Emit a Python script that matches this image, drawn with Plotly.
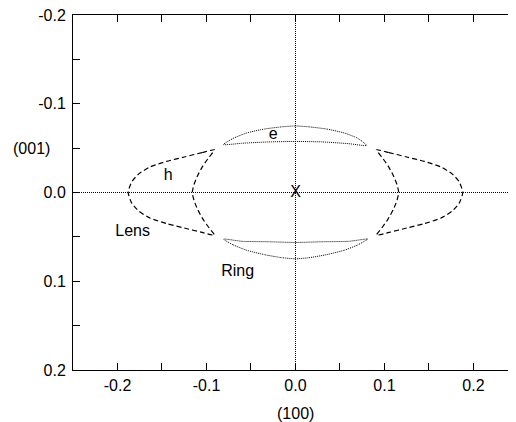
import plotly.graph_objects as go

# Lens (dashed) — left crescent: outer arc top->bottom, then inner arc bottom->top
lens_left_x = [-0.091, -0.105, -0.125, -0.145, -0.163, -0.176, -0.184, -0.188,
               -0.184, -0.176, -0.163, -0.145, -0.125, -0.105, -0.091,
               -0.097, -0.104, -0.110, -0.114, -0.116, -0.114, -0.110, -0.104, -0.097, -0.091]
lens_left_y = [-0.048, -0.045, -0.040, -0.035, -0.029, -0.021, -0.012, 0.000,
               0.012, 0.021, 0.029, 0.035, 0.040, 0.045, 0.048,
               0.040, 0.030, 0.019, 0.009, 0.000, -0.009, -0.019, -0.030, -0.040, -0.048]
lens_right_x = [0.091, 0.105, 0.125, 0.145, 0.163, 0.176, 0.184, 0.188,
                0.184, 0.176, 0.163, 0.145, 0.125, 0.105, 0.091,
                0.097, 0.104, 0.110, 0.114, 0.116, 0.114, 0.110, 0.104, 0.097, 0.091]
lens_right_y = lens_left_y

# Ring (dotted) — top ring: outer arc left->right, inner arc right->left
ring_top_x = [-0.081, -0.070, -0.055, -0.035, -0.015, 0.000, 0.015, 0.035, 0.055, 0.070, 0.080,
              0.060, 0.030, 0.000, -0.030, -0.060, -0.081]
ring_top_y = [-0.054, -0.061, -0.067, -0.0715, -0.074, -0.075, -0.074, -0.0715, -0.067, -0.061, -0.053,
              -0.055, -0.057, -0.0575, -0.057, -0.0555, -0.054]
ring_bot_x = [-0.081, -0.070, -0.055, -0.035, -0.015, 0.000, 0.015, 0.035, 0.055, 0.070, 0.081,
              0.060, 0.030, 0.000, -0.030, -0.060, -0.081]
ring_bot_y = [0.0525, 0.059, 0.065, 0.070, 0.0735, 0.0747, 0.0735, 0.070, 0.065, 0.059, 0.0525,
              0.055, 0.0555, 0.0563, 0.0555, 0.055, 0.0525]

# Text labels
label_text = ["e", "h", "Lens", "Ring", "X"]
label_x = [-0.025, -0.143, -0.183, -0.065, 0.0]
label_y = [-0.065, -0.019, 0.045, 0.0897, 0.0]

tick_vals = [-0.2, -0.15, -0.1, -0.05, 0.0, 0.05, 0.1, 0.15, 0.2]
tick_text = ["-0.2", "", "-0.1", "", "0.0", "", "0.1", "", "0.2"]

FONT = "Liberation Sans, Arial, sans-serif"
FS = 16

fig = go.Figure()
for xs, ys in [(lens_left_x, lens_left_y), (lens_right_x, lens_right_y)]:
    fig.add_trace(go.Scatter(x=xs, y=ys, mode="lines", line=dict(color="black", width=1.2, dash="5px,3px", shape="spline", smoothing=0.6),
                             showlegend=False, hoverinfo="skip"))
for xs, ys in [(ring_top_x, ring_top_y), (ring_bot_x, ring_bot_y)]:
    fig.add_trace(go.Scatter(x=xs, y=ys, mode="lines", line=dict(color="black", width=1, dash="1px,1px", shape="spline", smoothing=0.6),
                             showlegend=False, hoverinfo="skip"))
fig.add_trace(go.Scatter(x=label_x, y=label_y, mode="text", text=label_text,
                         textfont=dict(family=FONT, size=FS, color="black"),
                         showlegend=False, hoverinfo="skip"))

# dotted zero lines
fig.add_shape(type="line", xref="paper", yref="y", x0=0, x1=1, y0=0, y1=0,
              line=dict(color="black", width=1, dash="1px,1px"))
fig.add_shape(type="line", xref="x", yref="paper", x0=0, x1=0, y0=0, y1=1,
              line=dict(color="black", width=1, dash="1px,1px"))

# plot area: 355 px tall, bottom edge 43 px above the "(100)" centre
fig.add_annotation(text="(100)", xref="x", yref="paper", x=0, y=-43 / 355, showarrow=False,
                   font=dict(family=FONT, size=FS, color="black"), yanchor="middle")
fig.add_annotation(text="(001)", xref="paper", yref="y", x=-42 / 443, y=-0.05, showarrow=False,
                   font=dict(family=FONT, size=FS, color="black"), xanchor="center")

# page body has an 8px margin, so the figure is 8px smaller and margins shifted
fig.update_layout(
    width=508, height=414,
    margin=dict(l=65, r=0, t=7, b=52),
    paper_bgcolor="white", plot_bgcolor="white",
    font=dict(family=FONT, size=FS, color="black"),
    xaxis=dict(range=[-0.25, 0.2478], tickvals=tick_vals, ticktext=tick_text,
               ticks="inside", ticklen=7, tickcolor="black", tickwidth=1,
               showline=True, linecolor="black", linewidth=1, mirror="ticks",
               showgrid=False, zeroline=False, ticklabelstandoff=1,
               ticklabeloverflow="allow"),
    yaxis=dict(range=[0.2, -0.2], tickvals=tick_vals, ticktext=tick_text,
               ticks="inside", ticklen=7, tickcolor="black", tickwidth=1,
               showline=True, linecolor="black", linewidth=1, mirror="ticks",
               showgrid=False, zeroline=False, ticklabelstandoff=3,
               ticklabeloverflow="allow"),
)

fig.write_html("out.html")
